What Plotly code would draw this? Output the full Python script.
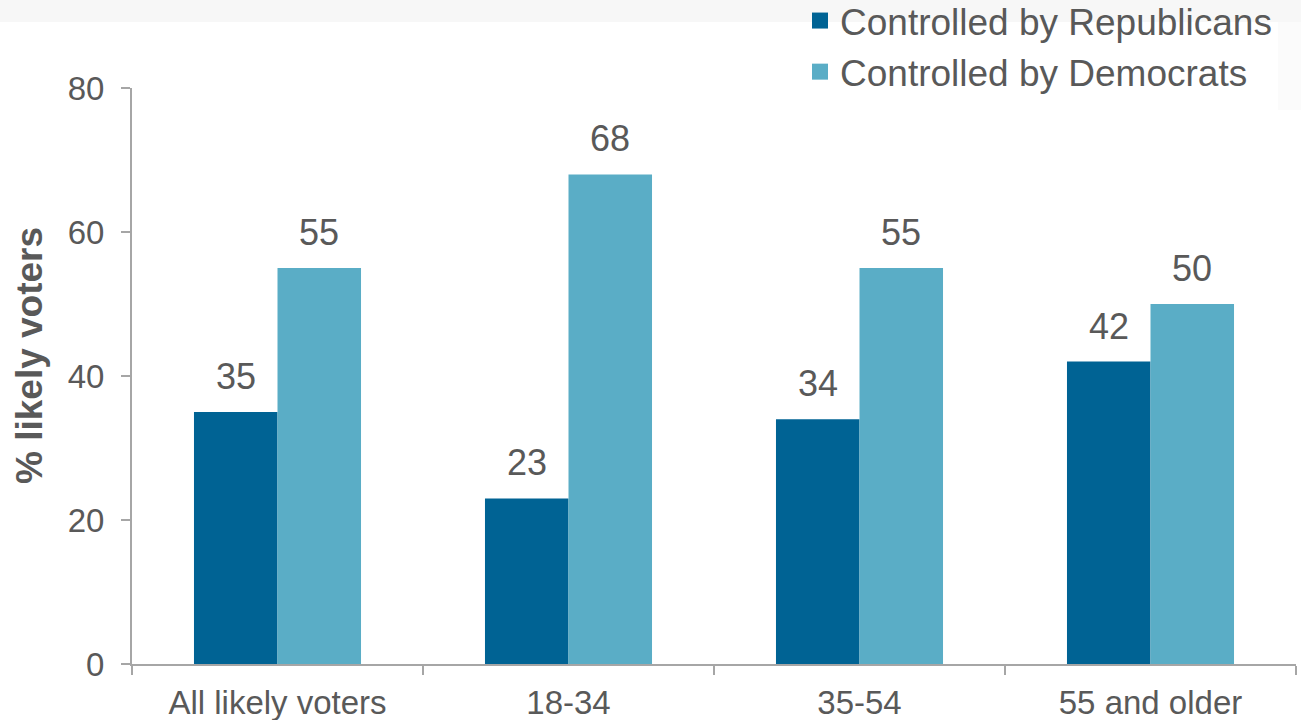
import plotly.graph_objects as go

categories = ["All likely voters", "18-34", "35-54", "55 and older"]
republicans = [35, 23, 34, 42]
democrats = [55, 68, 55, 50]
series_names = ["Controlled by Republicans", "Controlled by Democrats"]
colors = ["#006394", "#5aadc6"]
y_ticks = [0, 20, 40, 60, 80]
y_title = "% likely voters"

TXT = "#595959"
AX = "#a6a6a6"
FONT = "Liberation Sans, Arial, sans-serif"

W, H = 1301, 720
ml, mr, mt, mb = 132, 5, 88, 56
pw, ph = W - ml - mr, H - mt - mb
BARGAP = 0.426
cat_px = pw / len(categories)
bar_px = cat_px * (1 - BARGAP) / 2

fig = go.Figure()
for i, (vals, name, col) in enumerate(zip([republicans, democrats], series_names, colors)):
    fig.add_trace(go.Bar(
        x=categories, y=vals, name=name, marker=dict(color=col, line=dict(width=0)),
        showlegend=False, hoverinfo="x+y+name",
    ))
    fig.add_trace(go.Scatter(
        x=[None], y=[None], mode="markers", name=name,
        marker=dict(symbol="square", size=19, color=col),
    ))
    shift = (i - 0.5) * bar_px
    for c, v in zip(categories, vals):
        fig.add_annotation(x=c, y=v, xref="x", yref="y", text=str(v), showarrow=False,
                           xanchor="center", yanchor="bottom", xshift=shift, yshift=13,
                           font=dict(family=FONT, size=36, color=TXT))

# y-axis title
fig.add_annotation(text="<b>" + y_title + "</b>", textangle=-90, showarrow=False,
                   xref="paper", yref="paper", x=(29 - ml) / pw, y=(H - mb - 356) / ph,
                   xanchor="center", yanchor="middle",
                   font=dict(family=FONT, size=37, color=TXT))

fig.add_shape(type="rect", xref="paper", yref="paper",
              x0=-ml / pw, x1=1 + mr / pw, y0=(H - mb - 22) / ph, y1=(H - mb) / ph,
              fillcolor="#f7f7f7", line=dict(width=0), layer="below")
fig.add_shape(type="rect", xref="paper", yref="paper",
              x0=(1278 - ml) / pw, x1=1 + mr / pw, y0=(H - mb - 110) / ph, y1=(H - mb - 22) / ph,
              fillcolor="#fbfbfb", line=dict(width=0), layer="below")

fig.update_layout(
    width=W, height=H,
    margin=dict(l=ml, r=mr, t=mt, b=mb, autoexpand=False),
    paper_bgcolor="white", plot_bgcolor="rgba(0,0,0,0)",
    barmode="group", bargap=BARGAP, bargroupgap=0,
    font=dict(family=FONT, color=TXT),
    legend=dict(xref="paper", yref="paper", x=(800 - ml) / pw, xanchor="left",
                y=(H - mb + 10) / ph, yanchor="top",
                font=dict(family=FONT, size=37, color=TXT),
                itemsizing="trace", tracegroupgap=0, bgcolor="rgba(0,0,0,0)"),
    xaxis=dict(showline=True, linecolor=AX, linewidth=2, ticks="outside",
               tickson="boundaries", ticklen=9, tickcolor=AX, tickwidth=2,
               tickfont=dict(family=FONT, size=33, color=TXT), showgrid=False,
               automargin=False, ticklabelstandoff=8),
    yaxis=dict(range=[0, 80], tickvals=y_ticks, showline=True, linecolor=AX,
               linewidth=2, ticks="outside", ticklen=9, tickcolor=AX, tickwidth=2,
               tickfont=dict(family=FONT, size=33, color=TXT), showgrid=False,
               zeroline=False, automargin=False, ticklabelstandoff=10),
)

fig.write_html("out.html", config={"displayModeBar": False},
               post_script="document.body.style.margin='0';document.body.style.overflow='hidden';")
